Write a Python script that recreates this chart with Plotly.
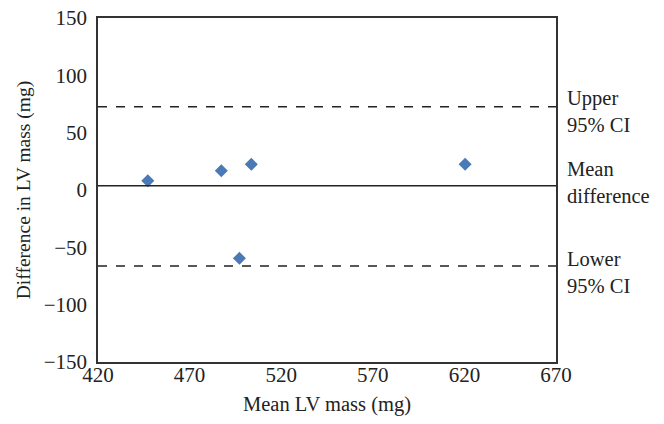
import plotly.graph_objects as go

mean_lv_mass = [447.2, 487.3, 503.7, 620.4, 497.2]
diff_lv_mass = [8.1, 16.8, 22.4, 22.4, -59.6]
mean_difference = 3.7
upper_ci = 72.6
lower_ci = -66.3
x_ticks = [420, 470, 520, 570, 620, 670]
y_ticks = [-150, -100, -50, 0, 50, 100, 150]
y_tick_labels = ["\u2212150", "\u2212100", "\u221250", "0", "50", "100", "150"]

FONT = "Liberation Serif"
fig = go.Figure()
fig.add_trace(go.Scatter(
    x=mean_lv_mass, y=diff_lv_mass, mode="markers",
    marker=dict(symbol="diamond", size=10, color="#4a7ab5"),
    showlegend=False))

line_col = "#222222"
fig.add_shape(type="line", xref="paper", x0=0, x1=1, yref="y", y0=mean_difference, y1=mean_difference,
              line=dict(color=line_col, width=1.3))
for v in (upper_ci, lower_ci):
    fig.add_shape(type="line", xref="paper", x0=0, x1=1, yref="y", y0=v, y1=v,
                  line=dict(color=line_col, width=1.3, dash="dash"))

ann = [("Upper<br>95% CI", upper_ci, -5), ("Mean<br>difference", mean_difference, 3.5),
       ("Lower<br>95% CI", lower_ci, -6.5)]
for txt, v, ys in ann:
    fig.add_annotation(xref="paper", x=1.0, xanchor="left", xshift=9, yref="y", y=v, yanchor="middle",
                       yshift=ys, text=txt, showarrow=False, align="left",
                       font=dict(family=FONT, size=20.5, color="#222222"))

# page body adds an 8px margin, so the figure is sized to fit the 664x424 window
fig.update_layout(
    width=648, height=408,
    margin=dict(l=90, r=100, t=10, b=54),
    paper_bgcolor="white", plot_bgcolor="white",
    font=dict(family=FONT, size=20, color="#222222"),
    xaxis=dict(range=[420, 670], tickvals=x_ticks, showgrid=False, zeroline=False,
               showline=True, mirror=True, linecolor="#333333", linewidth=1.5,
               ticks="", ticklen=0, automargin=False, tickfont=dict(size=21),
               ticklabelstandoff=-7, ticklabeloverflow="allow",
               title=dict(text="Mean LV mass (mg)", standoff=22, font=dict(size=20.5))),
    yaxis=dict(range=[-150, 150], tickvals=y_ticks, ticktext=y_tick_labels, showgrid=False, zeroline=False,
               showline=True, mirror=True, linecolor="#333333", linewidth=1.5,
               ticks="", ticklen=0, automargin=False, tickfont=dict(size=21), ticklabelstandoff=5,
               ticklabeloverflow="allow",
               title=dict(text="Difference in LV mass (mg)", standoff=8, font=dict(size=19.5))),
)
fig.write_html("out.html")
